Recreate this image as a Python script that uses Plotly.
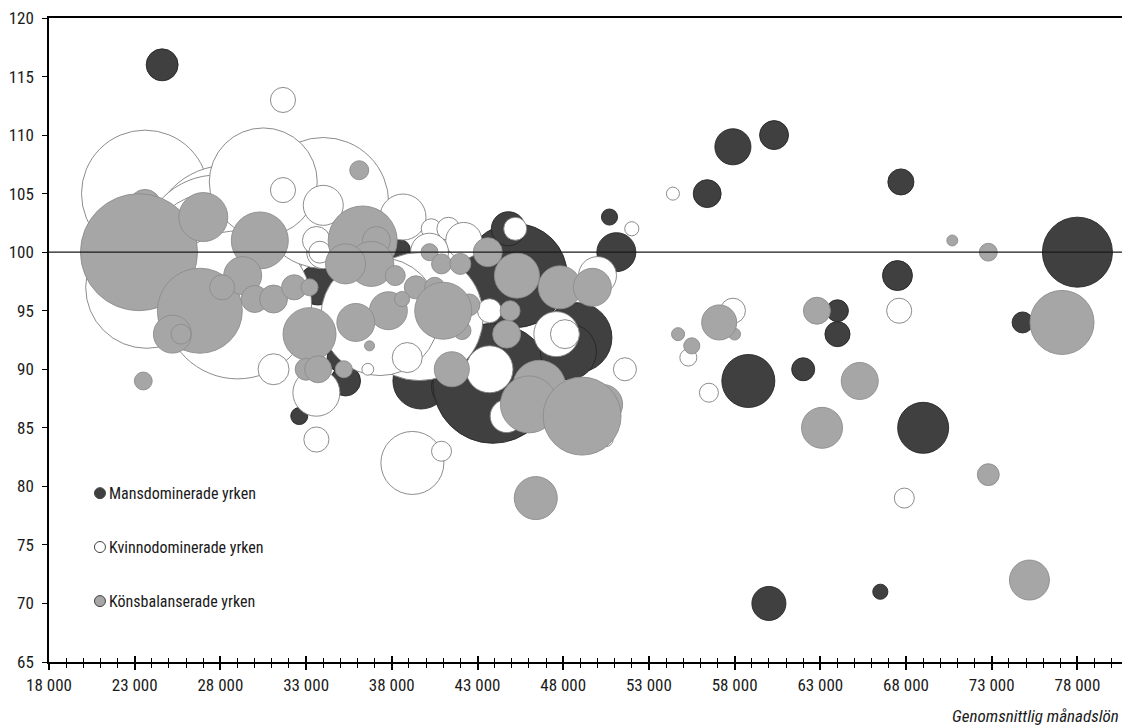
import plotly.graph_objects as go

# ---------------- data ----------------
# Mansdominerade yrken: salary, index, number employed (thousands)
man_lon = [24600, 32600, 33700, 38500, 35100, 35300, 36100, 39700, 41600, 43900,
           45200, 44800, 48800, 48300, 50700, 51100, 56400, 57900, 60300, 67700,
           78000, 67500, 64000, 64000, 74800, 58800, 62000, 69000, 60000, 66500]
man_idx = [116, 86, 97.2, 100.2, 91, 89, 91.3, 89, 88.5, 88.8,
           98, 102, 92.7, 91.5, 103, 100, 105, 109, 110, 106,
           100, 98, 95, 93, 94, 89, 90, 85, 70, 71]
man_antal = [10.2, 2.9, 16.0, 4.0, 9.0, 9.0, 1.4, 31.4, 19.4, 144,
             108.2, 11.6, 49, 31.4, 2.6, 15.2, 7.8, 13, 8.4, 6.8,
             49, 9, 4.8, 6.3, 4.4, 28.1, 5.3, 26, 11.6, 2.3]

# Kvinnodominerade yrken
kvi_lon = [23600, 23700, 28400, 27800, 27400, 29000, 34000, 30500, 31650, 31650,
           34000, 38650, 40300, 41300, 42200, 40200, 34000, 33600, 33800, 39600,
           37300, 43700, 43700, 44700, 45200, 47600, 48100, 50000, 51600, 52000,
           50500, 38900, 39200, 40900, 33600, 33600, 36600, 31100, 54400, 55300,
           56500, 57900, 67600, 67900]
kvi_idx = [105, 97, 100.8, 100.1, 99.9, 95.5, 104.2, 106, 113, 105.3,
           104, 103, 102, 102, 101, 100, 100, 101, 100, 94.5,
           94.5, 95, 90, 86, 102, 93, 93, 98, 90, 102,
           84, 91, 82, 83, 88, 84, 90, 90, 105, 91,
           88, 95, 95, 79]
kvi_antal = [161.3, 148.8, 240, 231, 144, 219, 171.6, 116.6, 6.3, 6.3,
             16, 21.2, 4, 5.3, 13, 14.4, 10.9, 7.8, 4.8, 163.8,
             139.2, 5.8, 22.1, 10.9, 5.3, 20.3, 8.4, 14.4, 5.3, 2,
             2, 9, 39.7, 4, 22.1, 6.3, 1.4, 9.6, 1.7, 2.9,
             3.6, 6.3, 6.3, 4]

# Könsbalanserade yrken
kon_lon = [23600, 23250, 27000, 30300, 26800, 25200, 25700, 29300, 28100, 30000,
           31100, 32300, 33200, 33200, 33000, 33700, 35200, 23500, 36100, 36300,
           37100, 36800, 35300, 38200, 40200, 40900, 42000, 39400, 40500, 42500,
           42100, 41000, 37800, 35900, 38600, 36700, 41500, 43600, 45300, 47800,
           49700, 44900, 44700, 46600, 46000, 50300, 49100, 46400, 54700, 55500,
           58000, 57100, 62800, 70700, 72800, 77100, 65300, 63100, 72800, 75200]
kon_idx = [104, 100, 103, 101, 95, 93, 93, 98, 97, 96,
           96, 97, 97, 93, 90, 90, 90, 89, 107, 101,
           101, 99, 99, 98, 100, 99, 99, 97, 97, 95.5,
           93.3, 95, 95, 94, 96, 92, 90, 100, 98, 97,
           97, 95, 93, 88.5, 87, 87, 86, 79, 93, 92,
           93, 94, 95, 101, 100, 94, 89, 85, 81, 72]
kon_antal = [10.2, 136.9, 24, 32.5, 72.3, 14.4, 4, 14.4, 6.3, 7.3,
             7.8, 6.3, 2.9, 28.1, 4.8, 7.3, 2.9, 3.2, 3.6, 47.6,
             7.8, 20.3, 16, 4, 2.9, 4, 4.4, 5.3, 4, 4.8,
             3.2, 32.5, 14.4, 14.4, 2.3, 1, 12.3, 8.4, 20.3, 18.5,
             14.4, 4, 7.8, 28.1, 32.5, 16, 60.8, 18.5, 1.7, 2.6,
             1.4, 12.3, 7.3, 1.2, 3.2, 41, 13.7, 16.8, 4.8, 16]

serier = ["Mansdominerade yrken", "Kvinnodominerade yrken", "Könsbalanserade yrken"]
x_ticks = list(range(18000, 80001, 5000))
y_ticks = list(range(65, 121, 5))

# ---------------- style ----------------
FONT = "Roboto Condensed, DejaVu Sans Condensed, Liberation Sans Narrow, sans-serif"
fill = ["#404040", "#ffffff", "#a6a6a6"]
edge = ["#262626", "#7f7f7f", "#8c8c8c"]
SIZEREF = 0.02
TXT = "#1a1a1a"

fig = go.Figure()
for name, xs, ys, ss, fc, ec in zip(
        serier,
        [man_lon, kvi_lon, kon_lon],
        [man_idx, kvi_idx, kon_idx],
        [man_antal, kvi_antal, kon_antal],
        fill, edge):
    fig.add_trace(go.Scatter(
        x=xs, y=ys, mode="markers", name=name, showlegend=False,
        marker=dict(size=ss, sizemode="area", sizeref=SIZEREF,
                    color=fc, opacity=1, line=dict(color=ec, width=0.9)),
        hoverinfo="skip"))

# helper trace so the overlay axis (inner tick marks) is drawn
fig.add_trace(go.Scatter(x=[None], y=[None], xaxis="x2", showlegend=False,
                         hoverinfo="skip"))

# manual legend (markers as pixel-sized circle shapes, text as annotations)
leg_y = [0.2622, 0.1785, 0.0946]
shapes = []
annotations = []
for name, fc, ec, ly in zip(serier, fill, edge, leg_y):
    shapes.append(dict(type="circle", xref="paper", yref="paper",
                       xsizemode="pixel", ysizemode="pixel",
                       xanchor=0.0475, yanchor=ly,
                       x0=-5.5, x1=5.5, y0=-5.5, y1=5.5,
                       fillcolor=fc, line=dict(color="#404040", width=1)))
    annotations.append(dict(text=name, xref="paper", yref="paper",
                            x=0.0545, y=ly, xanchor="left", yanchor="middle",
                            showarrow=False,
                            font=dict(family=FONT, size=16, color=TXT)))

# horizontal reference line at 100
shapes.append(dict(type="line", xref="paper", yref="y", x0=0, x1=1, y0=100, y1=100,
                   line=dict(color="#1a1a1a", width=1.2), layer="above"))

annotations.append(dict(text="<i>Genomsnittlig månadslön</i>", xref="paper", yref="paper",
                        x=0.9995, y=-0.084, xanchor="right", yanchor="middle",
                        showarrow=False,
                        font=dict(family=FONT, size=17, color=TXT)))

fig.update_layout(
    width=1124, height=725,
    margin=dict(l=49, r=2, t=18, b=63),
    paper_bgcolor="white", plot_bgcolor="white",
    separators=", ",
    font=dict(family=FONT, size=17, color=TXT),
    shapes=shapes, annotations=annotations,
    xaxis=dict(range=[18000, 80600], showgrid=False, zeroline=False, automargin=False,
               showline=True, linecolor="#000000", linewidth=1.5, mirror=True,
               tickmode="array", tickvals=x_ticks, tickformat=",d",
               ticks="outside", ticklen=6, tickwidth=1.8, tickcolor="#000000",
               ticklabelstandoff=1, ticklabeloverflow="allow",
               minor=dict(tickmode="linear", tick0=18000, dtick=1000,
                          ticks="outside", ticklen=4, tickwidth=1, tickcolor="#000000"),
               tickfont=dict(family=FONT, size=17, color=TXT)),
    xaxis2=dict(range=[18000, 80600], overlaying="x", anchor="y", side="bottom",
                showgrid=False, zeroline=False, showline=False, automargin=False,
                tickmode="array", tickvals=x_ticks, showticklabels=False,
                ticks="inside", ticklen=6, tickwidth=1.8, tickcolor="#000000",
                minor=dict(tickmode="linear", tick0=18000, dtick=1000,
                           ticks="inside", ticklen=4, tickwidth=1, tickcolor="#000000")),
    yaxis=dict(range=[65, 120], showgrid=False, zeroline=False, automargin=False,
               showline=True, linecolor="#000000", linewidth=1.5,
               tickmode="array", tickvals=y_ticks,
               ticks="outside", ticklen=5, tickwidth=1, tickcolor="#000000",
               ticklabelstandoff=5, ticklabeloverflow="allow",
               tickfont=dict(family=FONT, size=17, color=TXT)),
)

# remove the default page margin so the 1124x725 figure fills the window exactly
fig.write_html("out.html",
               config={"displayModeBar": False},
               post_script="document.body.style.margin='0px';"
                           "document.body.style.overflow='hidden';")
